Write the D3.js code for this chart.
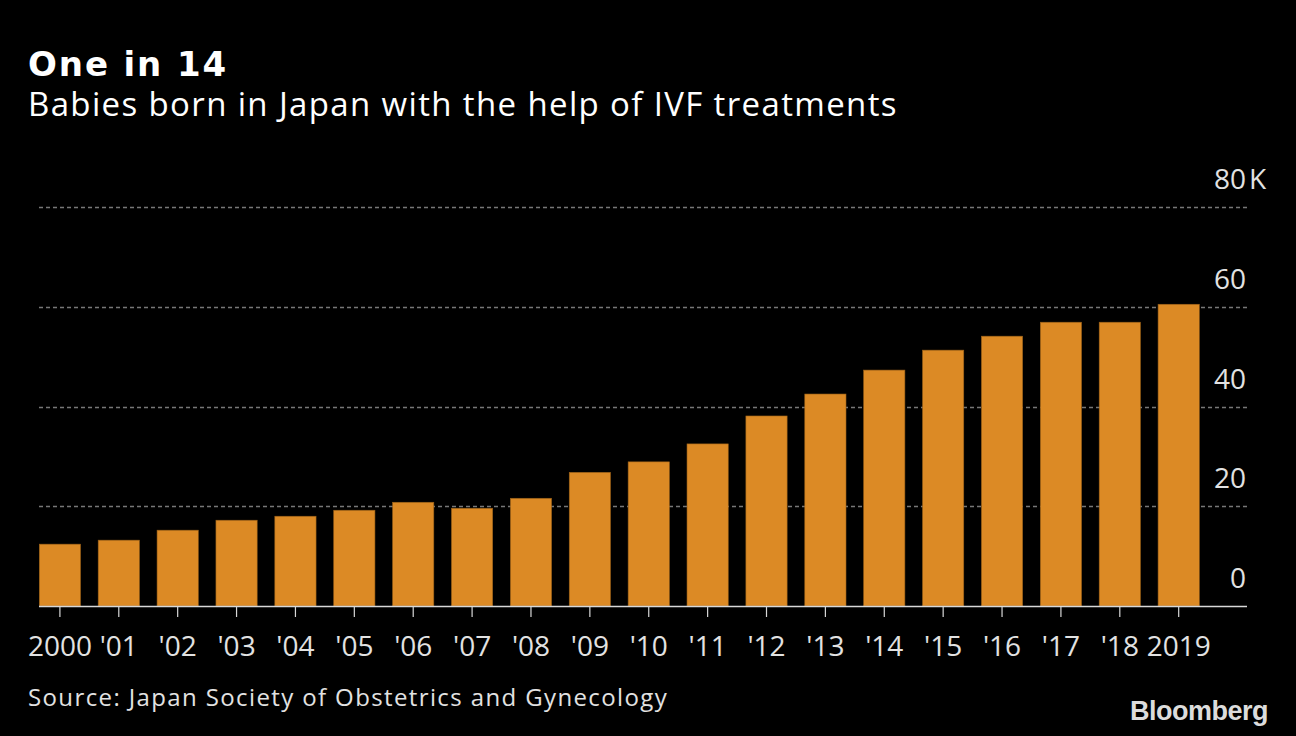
<!DOCTYPE html>
<html>
<head>
<meta charset="utf-8">
<script src="https://cdn.jsdelivr.net/npm/d3@7"></script>
<style>
  html, body { margin: 0; padding: 0; background: #000; }
  svg { display: block; }
</style>
</head>
<body>
<svg id="chart" width="1296" height="736"></svg>
<script>
const years = ["2000","'01","'02","'03","'04","'05","'06","'07","'08","'09","'10","'11","'12","'13","'14","'15","'16","'17","'18","2019"];
const births = [12.4,13.2,15.2,17.2,18.0,19.2,20.8,19.6,21.6,26.8,28.9,32.5,38.1,42.5,47.3,51.3,54.1,56.9,56.9,60.5];
const yTicks = [0,20,40,60,80];
const yTickLabels = ["0","20","40","60","80"];
const yUnit = "K";
const title = "One in 14";
const subtitle = "Babies born in Japan with the help of IVF treatments";
const source = "Source: Japan Society of Obstetrics and Gynecology";

const svg = d3.select("#chart");
const FONT = "'Open Sans', 'Liberation Sans', sans-serif";
svg.append("rect").attr("width",1296).attr("height",736).attr("fill","#000");

const x = d3.scaleBand().domain(years).range([39.3, 1199.3]).paddingInner(0.3).paddingOuter(0);
const y = d3.scaleLinear().domain([0, 80]).range([606, 207]);

// fit text to a target width via letter-spacing
function fit(sel, target) {
  const node = sel.node();
  const w = node.getComputedTextLength();
  const n = sel.text().length;
  sel.attr("letter-spacing", ((target - w) / n).toFixed(2));
  return sel;
}

// gridlines
svg.append("g").selectAll("line").data(yTicks.filter(d => d > 0)).join("line")
  .attr("x1", 39).attr("x2", 1247)
  .attr("y1", d => Math.round(y(d)) + 0.5).attr("y2", d => Math.round(y(d)) + 0.5)
  .attr("stroke", "#777").attr("stroke-width", 1.4).attr("stroke-dasharray", "4,3");

// y labels
const yl = svg.append("g").selectAll("text").data(yTicks).join("text")
  .attr("x", 1246).attr("y", d => y(d) - 18)
  .attr("text-anchor", "end")
  .attr("font-family", FONT).attr("font-size", 28).attr("fill", "#e2e2e2")
  .text((d, i) => yTickLabels[i]);
svg.append("text").attr("x", 1249).attr("y", y(80) - 18)
  .attr("font-family", FONT).attr("font-size", 28).attr("fill", "#e2e2e2").text(yUnit);

// bars
svg.append("g").selectAll("rect").data(births).join("rect")
  .attr("x", (d, i) => x(years[i]))
  .attr("width", x.bandwidth())
  .attr("y", d => y(d))
  .attr("height", d => y(0) - y(d))
  .attr("fill", "#dc8a25")
  .attr("stroke", "#9a6018").attr("stroke-width", 0.6);

// x axis
const xAxis = d3.axisBottom(x).tickSize(11).tickPadding(10).tickSizeOuter(0);
const gx = svg.append("g").attr("transform", "translate(0,606)").call(xAxis);
gx.select(".domain").remove();
gx.selectAll(".tick line").attr("stroke", "#d8d8d8").attr("stroke-width", 1.2);
gx.selectAll(".tick text").attr("font-family", FONT).attr("font-size", 28).attr("fill", "#e2e2e2")
  .attr("dy", null).attr("y", 50);
svg.append("line").attr("x1", 39).attr("x2", 1247).attr("y1", 606.5).attr("y2", 606.5)
  .attr("stroke", "#d8d8d8").attr("stroke-width", 1.5);

// titles
fit(svg.append("text").attr("x", 28).attr("y", 76).attr("font-family", "'DejaVu Sans', sans-serif")
  .attr("font-weight", "bold").attr("font-size", 34).attr("fill", "#fff").text(title), 200);
fit(svg.append("text").attr("x", 28).attr("y", 116).attr("font-family", FONT)
  .attr("font-size", 33).attr("fill", "#fff").text(subtitle), 870);
fit(svg.append("text").attr("x", 28).attr("y", 706).attr("font-family", FONT)
  .attr("font-size", 24).attr("fill", "#e2e2e2").text(source), 640);
svg.append("text").attr("x", 1268).attr("y", 720).attr("text-anchor", "end")
  .attr("font-family", "'Liberation Sans', Arial, sans-serif").attr("font-weight", "bold")
  .attr("font-size", 27).attr("letter-spacing", -0.5).attr("fill", "#dcdcdc").text("Bloomberg");
</script>
</body>
</html>
